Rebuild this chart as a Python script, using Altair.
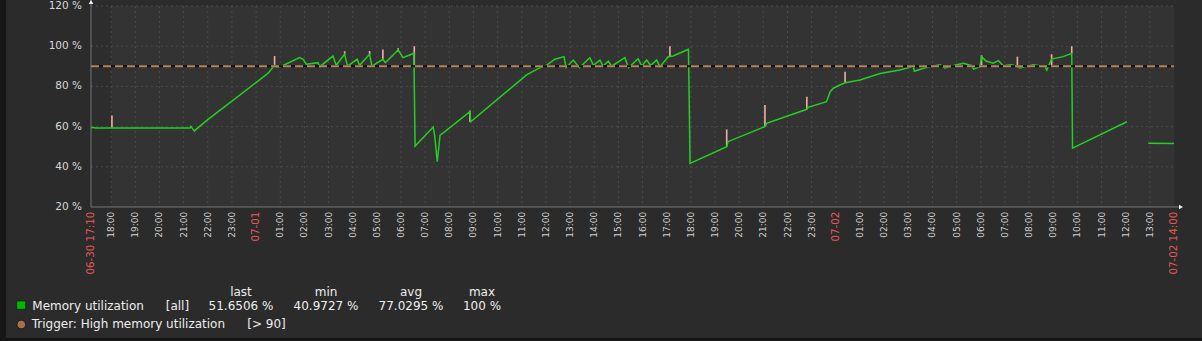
import altair as alt
import pandas as pd

# ---------------- data ----------------
mem_time = [
    "06-30 17:10", "06-30 17:15", "06-30 17:20", "06-30 21:16", "06-30 21:18", "06-30 21:22",
    "06-30 21:27", "06-30 21:31", "06-30 22:00", "06-30 23:00", "07-01 00:00", "07-01 00:30",
    "07-01 00:46", "07-01 00:52", "07-01 01:03", "07-01 01:48", "07-01 01:57", "07-01 02:05",
    "07-01 02:34", "07-01 02:38", "07-01 03:11", "07-01 03:19", "07-01 03:40", "07-01 03:47",
    "07-01 04:11", "07-01 04:17", "07-01 04:42", "07-01 04:48", "07-01 05:15", "07-01 05:21",
    "07-01 05:53", "07-01 06:05", "07-01 06:26", "07-01 06:32", "07-01 06:35", "07-01 07:20",
    "07-01 07:24", "07-01 07:30", "07-01 07:37", "07-01 07:49", "07-01 08:51", "07-01 08:53",
    "07-01 11:12", "07-01 11:45", "07-01 12:02", "07-01 12:22", "07-01 12:45", "07-01 12:50",
    "07-01 13:08", "07-01 13:23", "07-01 13:49", "07-01 13:58", "07-01 14:14", "07-01 14:22",
    "07-01 14:35", "07-01 14:43", "07-01 15:16", "07-01 15:25", "07-01 15:49", "07-01 15:58",
    "07-01 16:10", "07-01 16:20", "07-01 16:35", "07-01 16:43", "07-01 17:04", "07-01 17:16",
    "07-01 17:54", "07-01 17:58", "07-01 19:29", "07-01 19:32", "07-01 21:04", "07-01 21:08",
    "07-01 22:48", "07-01 22:51", "07-01 23:37", "07-01 23:46", "07-01 23:54", "07-02 00:10",
    "07-02 00:23", "07-02 01:00", "07-02 01:50", "07-02 02:39", "07-02 03:04", "07-02 03:12",
    "07-02 03:15", "07-02 03:46", "07-02 04:19", "07-02 04:31", "07-02 05:00", "07-02 05:17",
    "07-02 05:38", "07-02 05:42", "07-02 05:58", "07-02 06:02", "07-02 06:13", "07-02 06:31",
    "07-02 06:44", "07-02 06:56", "07-02 07:17", "07-02 07:31", "07-02 07:37", "07-02 08:11",
    "07-02 08:40", "07-02 08:44", "07-02 08:56", "07-02 09:25", "07-02 09:46", "07-02 09:48",
    "07-02 12:03",
]
mem_value = [
    59.3, 59.7, 59.3, 59.3, 60.1, 59.0,
    57.8, 58.6, 63.5, 72.7, 81.9, 86.6,
    90.5, 89.6, 90.0, 94.3, 93.5, 91.0,
    91.8, 89.8, 95.1, 90.5, 96.0, 90.1,
    93.5, 90.5, 96.0, 90.1, 93.5, 91.8,
    98.1, 94.3, 96.0, 96.5, 50.3, 59.8,
    55.0, 42.5, 55.8, 57.5, 67.4, 62.4,
    85.7, 89.3, 90.6, 93.5, 94.8, 89.3,
    93.1, 89.3, 94.3, 90.5, 93.1, 90.1,
    92.6, 90.1, 94.3, 89.3, 93.8, 90.1,
    93.1, 90.5, 93.1, 89.8, 94.8, 95.1,
    98.5, 41.7, 50.0, 52.5, 60.0, 61.6,
    68.6, 69.6, 72.4, 77.4, 79.1, 80.7,
    81.8, 83.2, 86.4, 88.2, 89.5, 90.3,
    87.5, 89.5, 90.8, 89.2, 90.8, 91.5,
    90.3, 88.6, 89.8, 94.8, 92.6, 91.5,
    92.8, 90.3, 90.8, 89.8, 89.2, 90.8,
    89.8, 88.1, 93.6, 94.8, 96.5, 49.3,
    62.4,
]
tail_time = ["07-02 12:56", "07-02 14:00"]
tail_value = [51.7, 51.65]

spike_time = ["06-30 18:02", "07-01 00:46", "07-01 03:40", "07-01 04:42", "07-01 05:15",
              "07-01 05:53", "07-01 06:33", "07-01 08:51", "07-01 17:08", "07-01 19:29",
              "07-01 21:04", "07-01 22:48", "07-02 00:23", "07-02 06:02", "07-02 07:31",
              "07-02 08:56", "07-02 09:46"]
spike_base = [59.3, 90.5, 96.0, 96.0, 93.5, 98.1, 90.0, 62.4, 94.8, 50.0,
              60.0, 68.6, 81.8, 90.0, 89.8, 90.0, 96.5]
spike_max = [65.5, 95.1, 97.5, 97.6, 98.4, 99.0, 100.0, 68.0, 100.0, 58.6,
             70.7, 74.9, 87.3, 95.5, 94.8, 96.0, 100.0]

threshold = [90]
y_ticks = [20, 40, 60, 80, 100, 120]

tick_times = [
    "06-30 18:00", "06-30 19:00", "06-30 20:00", "06-30 21:00", "06-30 22:00", "06-30 23:00",
    "07-01 01:00", "07-01 02:00", "07-01 03:00", "07-01 04:00", "07-01 05:00", "07-01 06:00",
    "07-01 07:00", "07-01 08:00", "07-01 09:00", "07-01 10:00", "07-01 11:00", "07-01 12:00",
    "07-01 13:00", "07-01 14:00", "07-01 15:00", "07-01 16:00", "07-01 17:00", "07-01 18:00",
    "07-01 19:00", "07-01 20:00", "07-01 21:00", "07-01 22:00", "07-01 23:00",
    "07-02 01:00", "07-02 02:00", "07-02 03:00", "07-02 04:00", "07-02 05:00", "07-02 06:00",
    "07-02 07:00", "07-02 08:00", "07-02 09:00", "07-02 10:00", "07-02 11:00", "07-02 12:00",
    "07-02 13:00",
]
tick_labels = [
    "18:00", "19:00", "20:00", "21:00", "22:00", "23:00",
    "01:00", "02:00", "03:00", "04:00", "05:00", "06:00",
    "07:00", "08:00", "09:00", "10:00", "11:00", "12:00",
    "13:00", "14:00", "15:00", "16:00", "17:00", "18:00",
    "19:00", "20:00", "21:00", "22:00", "23:00",
    "01:00", "02:00", "03:00", "04:00", "05:00", "06:00",
    "07:00", "08:00", "09:00", "10:00", "11:00", "12:00",
    "13:00",
]
date_tick_times = ["06-30 17:10", "07-01 00:00", "07-02 00:00", "07-02 14:00"]
date_tick_labels = ["06-30 17:10", "07-01", "07-02", "07-02 14:00"]

shade_start = ["06-30 17:10"]
shade_end = ["06-30 18:00"]

stat_names = ["last", "min", "avg", "max"]
stat_values = ["51.6506 %", "40.9727 %", "77.0295 %", "100 %"]
series_name = "Memory utilization"
trigger_name = "Trigger: High memory utilization"

# ---------------- helpers ----------------
def ms(s):
    return int(pd.Timestamp("2024-" + s.replace(" ", "T") + ":00", tz="UTC").value // 10**6)

FONT = "DejaVu Sans"
W, H = 1083, 201
T0, T1 = ms("06-30 17:10"), ms("07-02 14:00")

xs = alt.Scale(type="utc", domain=[T0, T1])
ys = alt.Scale(domain=[20, 120])

line_df = pd.DataFrame({
    "t": [ms(s) for s in mem_time] + [ms(s) for s in tail_time],
    "v": mem_value + tail_value,
    "seg": [1] * len(mem_time) + [2] * len(tail_time),
})
spike_df = pd.DataFrame({"t": [ms(s) for s in spike_time], "v": spike_base, "v2": spike_max})
tick_df = pd.DataFrame({"t": [ms(s) for s in tick_times], "label": tick_labels})
date_df = pd.DataFrame({"t": [ms(s) for s in date_tick_times], "label": date_tick_labels})
grid_df = pd.DataFrame({"t": [ms(s) for s in tick_times + date_tick_times[1:3]]})
ytick_df = pd.DataFrame({"v": y_ticks, "label": [f"{v} %" for v in y_ticks]})
thr_df = pd.DataFrame({"v": threshold})
shade_df = pd.DataFrame({"t": [ms(s) for s in shade_start], "t2": [ms(s) for s in shade_end]})
one = pd.DataFrame({"a": [0]})
stats_df = pd.DataFrame({"name": stat_names, "value": stat_values,
                         "col": [150, 235, 320, 391]})

X = alt.X("t:T", scale=xs, axis=None)
Y = alt.Y("v:Q", scale=ys, axis=None)

layers = []

# frame strips
layers.append(alt.Chart(one).mark_rect(color="#161616").encode(
    x=alt.value(-91), x2=alt.value(-85), y=alt.value(-6), y2=alt.value(335)))
layers.append(alt.Chart(one).mark_rect(color="#161616").encode(
    x=alt.value(-91), x2=alt.value(1111), y=alt.value(332), y2=alt.value(335)))

# plot background
layers.append(alt.Chart(one).mark_rect(color="#333333").encode(
    x=alt.value(0), x2=alt.value(W), y=alt.value(0), y2=alt.value(H)))
layers.append(alt.Chart(shade_df).mark_rect(color="#2d2d2d").encode(
    x=X, x2="t2:T", y=alt.value(0), y2=alt.value(H)))

# grid
layers.append(alt.Chart(grid_df).mark_rule(color="#4a4a4a", strokeDash=[2, 3], strokeWidth=1).encode(
    x=X, y=alt.value(0), y2=alt.value(H)))
layers.append(alt.Chart(ytick_df[ytick_df.v > 20]).mark_rule(color="#4a4a4a", strokeDash=[2, 3], strokeWidth=1).encode(
    y=Y, x=alt.value(0), x2=alt.value(W)))

# max spikes
layers.append(alt.Chart(spike_df).mark_rule(color="#f3aea4", strokeWidth=1.6).encode(
    x=X, y=Y, y2="v2:Q"))

# main line
layers.append(alt.Chart(line_df).mark_line(color="#22d022", strokeWidth=1.5).encode(
    x=X, y=Y, detail="seg:N"))

# trigger threshold
layers.append(alt.Chart(thr_df).mark_rule(color="#111111", strokeWidth=2).encode(
    y=Y, x=alt.value(0), x2=alt.value(W)))
layers.append(alt.Chart(thr_df).mark_rule(color="#b8845a", strokeWidth=2, strokeDash=[8, 4]).encode(
    y=Y, x=alt.value(0), x2=alt.value(W)))

# axis lines and arrows
layers.append(alt.Chart(one).mark_rule(color="#777777", strokeWidth=1).encode(
    x=alt.value(0), y=alt.value(-6), y2=alt.value(H)))
layers.append(alt.Chart(one).mark_rule(color="#777777", strokeWidth=1).encode(
    x=alt.value(0), x2=alt.value(W + 6), y=alt.value(H)))
layers.append(alt.Chart(one).mark_point(shape="triangle-up", filled=True, color="#eeeeee", size=22, opacity=1).encode(
    x=alt.value(0), y=alt.value(-4)))
layers.append(alt.Chart(one).mark_point(shape="triangle-right", filled=True, color="#eeeeee", size=22, opacity=1).encode(
    x=alt.value(W + 7), y=alt.value(H)))

# y labels
layers.append(alt.Chart(ytick_df).mark_text(font=FONT, fontSize=10.5, color="#d8d8d8",
                                            align="right", baseline="middle").encode(
    y=Y, x=alt.value(-9), text="label:N"))

# x labels
layers.append(alt.Chart(tick_df).mark_text(font=FONT, fontSize=9, color="#d0d0d0", angle=270,
                                           align="right", baseline="middle").encode(
    x=X, y=alt.value(H + 4.7), text="label:N"))
layers.append(alt.Chart(date_df).mark_text(font=FONT, fontSize=10.3, color="#e45959", angle=270,
                                           align="right", baseline="middle").encode(
    x=X, y=alt.value(H + 4.7), text="label:N"))

# legend
LC = "#eeeeee"
layers.append(alt.Chart(stats_df).mark_text(font=FONT, fontSize=12, color=LC, align="center",
                                            baseline="middle").encode(
    x=alt.X("col:Q", scale=None), y=alt.value(285.7), text="name:N"))
layers.append(alt.Chart(stats_df).mark_text(font=FONT, fontSize=12, color=LC, align="center",
                                            baseline="middle").encode(
    x=alt.X("col:Q", scale=None), y=alt.value(299.7), text="value:N"))
layers.append(alt.Chart(one).mark_text(font=FONT, fontSize=12, color=LC, align="left",
                                       baseline="middle", text=series_name).encode(
    x=alt.value(-58.7), y=alt.value(299.7)))
layers.append(alt.Chart(one).mark_text(font=FONT, fontSize=12, color=LC, align="left",
                                       baseline="middle", text="[all]").encode(
    x=alt.value(74.7), y=alt.value(299.7)))
layers.append(alt.Chart(one).mark_text(font=FONT, fontSize=12, color=LC, align="left",
                                       baseline="middle", text=trigger_name).encode(
    x=alt.value(-59.3), y=alt.value(318)))
layers.append(alt.Chart(one).mark_text(font=FONT, fontSize=12, color=LC, align="left",
                                       baseline="middle", text="[> 90]").encode(
    x=alt.value(156.3), y=alt.value(318)))
layers.append(alt.Chart(one).mark_rect(color="#00b800", stroke="#111111", strokeWidth=0.6).encode(
    x=alt.value(-74.3), x2=alt.value(-65.3), y=alt.value(295), y2=alt.value(303.3)))
layers.append(alt.Chart(one).mark_point(shape="circle", filled=True, color="#a8704a", size=75,
                                        stroke="#111111", strokeWidth=0.8, opacity=1).encode(
    x=alt.value(-69.7), y=alt.value(318.5)))

chart = alt.layer(*layers).properties(
    width=W, height=H,
    autosize=alt.AutoSizeParams(type="none"),
    padding={"left": 91, "top": 6, "right": 28, "bottom": 134},
    background="#2b2b2b",
).configure_view(strokeWidth=0)

chart.save("out.html", embed_options={"renderer": "svg", "actions": False})
